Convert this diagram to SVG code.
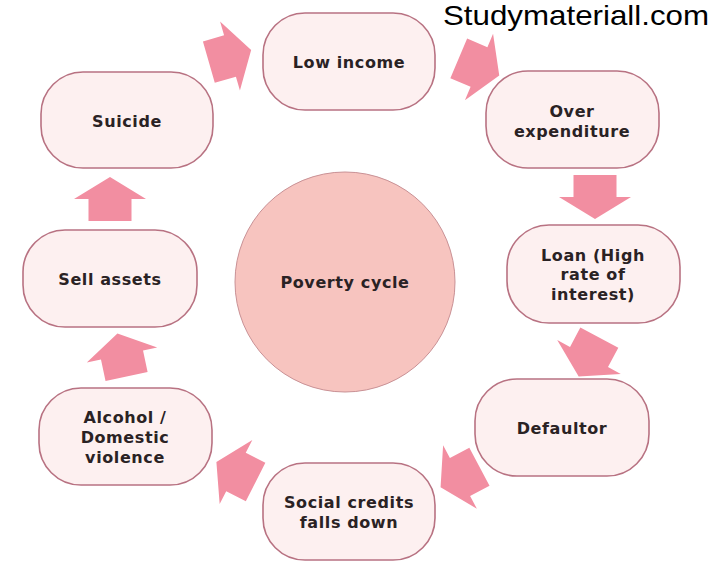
<svg xmlns="http://www.w3.org/2000/svg" xmlns:xlink="http://www.w3.org/1999/xlink" width="713" height="564" viewBox="0 0 713 564">
<style>
.box{fill:#fdf0f0;stroke:#b87282;stroke-width:1.6}
.lbl{font-family:"DejaVu Sans",Verdana,sans-serif;font-weight:bold;font-size:16px;fill:#2a2224;text-anchor:middle;letter-spacing:0.6px}
.arr{fill:#f28ea1}
.wm{font-family:"Liberation Sans",Arial,sans-serif;font-size:28px;fill:#000}
</style>
<defs>
<polygon id="blk" points="-22,-21.5 0,-21.5 0,-36 22,0 0,36 0,21.5 -22,21.5"/>
</defs>
<rect width="713" height="564" fill="#fff"/>
<text class="wm" x="443" y="25" textLength="266" lengthAdjust="spacingAndGlyphs">Studymateriall.com</text>
<g id="center">
<circle cx="345" cy="282" r="110" fill="#f7c4bf" stroke="#c99195" stroke-width="1"/>
<text class="lbl" x="345" y="288">Poverty cycle</text>
</g>
<g id="low-income">
<rect class="box" x="263" y="13" width="172" height="97" rx="42"/>
<text class="lbl" x="349" y="68">Low income</text>
</g>
<g id="over-expenditure">
<rect class="box" x="486" y="71" width="173" height="97" rx="42"/>
<text class="lbl" x="572" y="117">Over</text>
<text class="lbl" x="572" y="137">expenditure</text>
</g>
<g id="loan">
<rect class="box" x="507" y="225" width="173" height="98" rx="42"/>
<text class="lbl" x="593" y="261">Loan (High</text>
<text class="lbl" x="593" y="280">rate of</text>
<text class="lbl" x="593" y="300">interest)</text>
</g>
<g id="defaultor">
<rect class="box" x="475" y="379" width="174" height="97" rx="42"/>
<text class="lbl" x="562" y="434">Defaultor</text>
</g>
<g id="social-credits">
<rect class="box" x="263" y="463" width="172" height="97" rx="42"/>
<text class="lbl" x="349" y="508">Social credits</text>
<text class="lbl" x="349" y="528">falls down</text>
</g>
<g id="alcohol">
<rect class="box" x="39" y="388" width="173" height="97" rx="42"/>
<text class="lbl" x="125" y="423">Alcohol /</text>
<text class="lbl" x="125" y="443">Domestic</text>
<text class="lbl" x="125" y="463">violence</text>
</g>
<g id="sell-assets">
<rect class="box" x="23" y="230" width="174" height="97" rx="42"/>
<text class="lbl" x="110" y="285">Sell assets</text>
</g>
<g id="suicide">
<rect class="box" x="41" y="72" width="172" height="96" rx="42"/>
<text class="lbl" x="127" y="127">Suicide</text>
</g>
<g id="connectors" class="arr">
<use xlink:href="#blk" transform="translate(230,56) rotate(-16)"/>
<use xlink:href="#blk" transform="translate(479,67) rotate(23)"/>
<use xlink:href="#blk" transform="translate(595,197) rotate(90)"/>
<use xlink:href="#blk" transform="translate(589,357) rotate(118)"/>
<use xlink:href="#blk" transform="translate(460,477) rotate(152)"/>
<use xlink:href="#blk" transform="translate(236,472) rotate(207)"/>
<use xlink:href="#blk" transform="translate(122,355) rotate(-102)"/>
<use xlink:href="#blk" transform="translate(110,199) rotate(-90)"/>
</g>
</svg>
